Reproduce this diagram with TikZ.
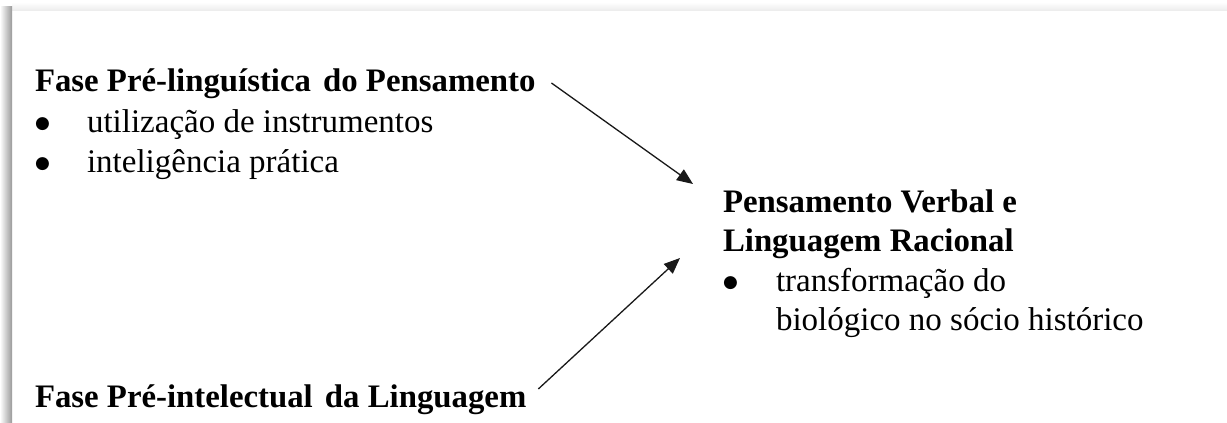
\documentclass[tikz,border=0pt]{standalone}
\usepackage{fontspec}
\setmainfont{Liberation Serif}[BoldFont={Liberation Serif Bold}]
\newfontfamily\tnr{Liberation Serif}
\newfontfamily\dvs{DejaVu Sans}
\usetikzlibrary{arrows.meta}
\tikzset{
  txt/.style={inner sep=0pt, outer sep=0pt, anchor=base west, font=\tnr\fontsize{33}{39}\selectfont},
  hd/.style={txt, font=\tnr\fontsize{32.8}{39}\selectfont\bfseries},
  arr/.style={line width=1.3pt, draw=black!90, -{Triangle[length=16pt,width=13pt]}}
}
\newcommand{\bul}[1]{\makebox[#1][l]{\raisebox{3.5pt}{\dvs\fontsize{17}{17}\selectfont ●}}}
\begin{document}
\begin{tikzpicture}[x=1pt,y=-1pt]
\useasboundingbox (0,0) rectangle (1227,423);
\fill[white] (0,0) rectangle (1227,423);
% shadow frame
\shade[top color=white, bottom color=black!7] (12,2) rectangle (1227,10);
\shade[left color=white, right color=black!40] (0,6) rectangle (12,423);
% left block
\node[hd] (h1) at (35,91) {Fase Pré-linguística\hspace{0.12em} do Pensamento};
\node[txt] (b1) at (35,132) {\bul{52pt}utilização de instrumentos};
\node[txt] (b2) at (35,172) {\bul{52pt}inteligência prática};
\node[hd] (h2) at (35,407) {Fase Pré-intelectual\hspace{0.12em} da Linguagem};
% right block
\node[hd] (r1) at (723,212) {\begin{tabular}[t]{@{}l@{}}Pensamento Verbal e\\ Linguagem Racional\end{tabular}};
\node[txt] (rb) at (723,291) {\bul{53pt}\begin{tabular}[t]{@{}l@{}}transformação do\\ biológico no sócio histórico\end{tabular}};
% arrow targets
\coordinate (t1) at (693,184);
\coordinate (t2) at (680,258);
\draw[arr] (h1.base east) ++(16,-8) -- (t1);
\draw[arr] (h2.base east) ++(12,-18) -- (t2);
\end{tikzpicture}
\end{document}
